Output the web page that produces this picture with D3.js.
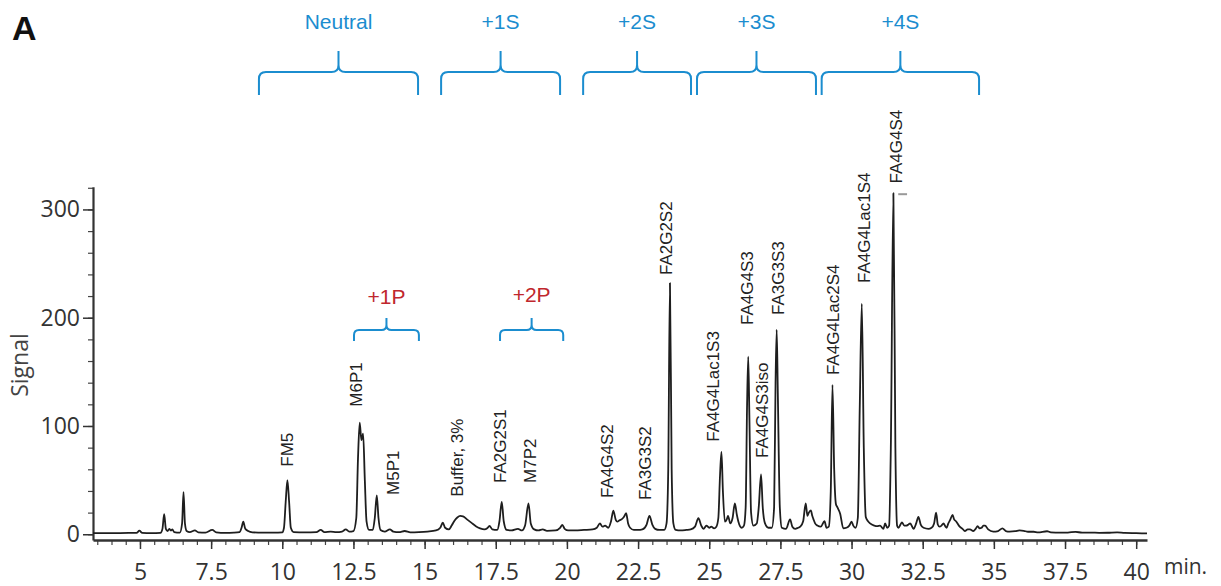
<!DOCTYPE html>
<html><head><meta charset="utf-8">
<script src="https://cdn.jsdelivr.net/npm/d3@7"></script>
<style>body{margin:0;background:#fff}</style>
</head><body><svg id="chart" width="1221" height="586"></svg>
<script>
// ---- data ----
const retentionTime = [3.35,4.0,4.6,4.88,4.98,5.08,5.4,5.72,
5.79,5.85,5.91,5.97,6.03,6.09,6.14,6.2,6.4,
6.48,6.53,6.58,6.64,6.75,6.93,7.05,7.3,7.54,7.68,8.0,8.3,8.5,8.57,8.63,8.7,8.8,8.95,9.3,9.7,10.0,
10.06,10.12,10.18,10.24,10.3,10.4,
10.8,11.2,11.35,11.48,11.7,11.9,12.1,12.23,12.35,12.5,
12.6,12.66,12.72,12.78,12.84,12.9,12.96,13.05,
13.18,13.25,13.32,13.38,13.45,13.6,13.78,13.9,14.1,14.3,14.5,14.8,15.1,15.4,15.55,15.64,15.72,15.85,
15.95,16.05,16.15,16.25,16.35,16.5,16.65,16.8,16.95,17.1,17.2,17.28,17.38,17.55,
17.63,17.71,17.78,17.88,18.05,18.28,18.42,18.53,18.65,18.73,18.85,19.0,19.15,19.3,19.6,19.76,19.84,19.92,20.05,20.3,20.6,20.9,21.05,21.16,21.25,21.34,21.45,21.55,21.63,21.72,21.77,21.85,21.93,22.0,22.08,22.15,22.22,22.35,22.5,22.65,22.8,22.9,23.0,23.1,23.25,23.42,23.5,23.56,23.62,23.68,23.74,23.82,24.0,24.2,24.35,24.5,24.62,24.72,24.8,24.9,25.0,25.07,25.17,25.25,25.32,25.38,25.43,25.48,25.55,25.62,25.66,25.74,25.82,25.9,25.97,26.02,26.14,26.22,26.28,26.33,26.37,26.41,26.47,26.55,26.67,26.74,26.82,26.88,26.96,27.08,27.2,27.28,27.33,27.37,27.41,27.48,27.55,27.7,27.84,27.92,28.02,28.12,28.2,28.3,28.39,28.45,28.5,28.57,28.62,28.66,28.72,28.8,28.92,29.05,29.12,29.2,29.27,29.33,29.39,29.45,29.5,29.6,29.71,29.82,29.92,30.0,30.06,30.14,30.22,30.29,30.36,30.43,30.5,30.58,30.65,30.8,30.9,31.0,31.12,31.18,31.25,31.32,31.38,31.47,31.54,31.6,31.65,31.72,31.77,31.85,31.92,32.0,32.06,32.18,32.27,32.35,32.43,32.53,32.7,32.81,32.9,32.97,33.03,33.09,33.16,33.23,33.3,33.34,33.4,33.46,33.55,33.6,33.67,33.8,33.9,33.98,34.08,34.16,34.28,34.36,34.43,34.5,34.57,34.63,34.69,34.8,34.98,35.15,35.3,35.42,35.55,35.75,35.9,36.05,36.2,36.4,36.55,36.87,37.0,37.34,37.6,37.87,38.1,38.4,38.7,39.0,39.33,39.6,40.0,40.38];
const signal = [1.0,1.0,1.2,1.2,3.3,1.2,1.0,1.2,
5,18.5,5,3,5,3.5,4.5,2,1.5,
10,39,10,3,2,3.5,1.8,1.5,4,1.8,1.3,1.5,2,6,11.6,5,3,1.8,1.5,1.5,1.8,
6,30,50,30,6,2,
1.8,2,4,2,2.5,2,2.5,4.5,2.5,3,
15,70,103,87,93,50,12,4,
4,15,36,15,4,2.5,4.5,2.5,2,3,1.8,2,2.5,3.5,6,10.7,6,4.5,
8,12.5,15.5,17,16.5,13.5,10.5,7.5,5.5,4.5,5.5,7.7,4.5,4,
12,30,12,4,3.5,5,3.5,8,28.6,10,4.5,3.5,4.5,3.2,3.5,6,8.6,5,3.5,3.5,4,4.5,6,10,7,8,6,12,21.8,13,11.6,13,14,16,19.4,10,6,4,4,4.5,9,17,9,5,4,4,10,60,232,60,10,4,3.5,4,4.5,7,14.8,8,5,8,6,7,5.5,7,15,55,76,40,11.6,14,17,10,15,28.6,18,12,6,8,25,120,164,110,20,8,10,25,55.4,25,10,6,6,25,140,189,130,25,6,5,13.8,7,5,6,7,12,28.6,17,20,22,17,14,10,8,7,12,6,7,40,138,60,28,25,19,5.5,6,8,11.6,8,6,15,120,213,80,16,12,10,8,7.5,8,5,10,6,8,80,315,80,8,6,9,11,8,8,9,10,5,10,16,9,6,5,6,10,20,9,7,8,10,7,6,10,13,17.8,14,12,7,5,3,4.5,4.5,3,5,7.5,5.5,6,8,8,4.5,2.5,3,5.5,3,2.5,2.8,3.5,3.2,2.3,2.3,1.8,2.8,1.8,1.5,1.6,2.2,1.5,1.6,1.3,1.4,1.8,1.2,1.0,0.8];

const xMajorTicks = [5,7.5,10,12.5,15,17.5,20,22.5,25,27.5,30,32.5,35,37.5,40];
const yMajorTicks = [0,100,200,300];

const peakNames = ["FM5","M6P1","M5P1","Buffer, 3%","FA2G2S1","M7P2","FA4G4S2","FA3G3S2","FA2G2S2",
  "FA4G4Lac1S3","FA4G4S3","FA4G4S3iso","FA3G3S3","FA4G4Lac2S4","FA4G4Lac1S4","FA4G4S4"];
const peakLabelTime = [10.17,12.59,13.89,16.13,17.65,18.7,21.4,22.74,23.5,25.13,26.32,26.84,27.42,29.35,30.44,31.56];
const peakLabelSignal = [62.4,117.8,36.3,34.7,47.4,47.4,33.5,31.7,239.4,85.5,193.3,70.5,202.5,147,232,324];

const chargeGroups = ["Neutral","+1S","+2S","+3S","+4S"];
const chargeGroupStart = [9.18,15.58,20.57,24.57,28.95];
const chargeGroupEnd = [14.77,19.76,24.36,28.75,34.48];

const phosphoGroups = ["+1P","+2P"];
const phosphoGroupStart = [12.52,17.65];
const phosphoGroupEnd = [14.8,19.87];

const cutMarkTime = [31.64,31.95];
const cutMarkSignal = 315;

// ---- drawing ----
const svg = d3.select("#chart");
const x = d3.scaleLinear().domain([3.35, 40.38]).range([93, 1147]);
const y = d3.scaleLinear().domain([-5.3, 321]).range([540, 186.7]);

const axisFont = "'Open Sans', 'Noto Sans', sans-serif";
const labelFont = "'Liberation Sans', Arial, sans-serif";
const blue = "#1b8dcf", red = "#c0272d";

// x axis minor
const xMinor = d3.range(7, 81).map(d => d / 2);
svg.append("g").attr("transform","translate(0,540)")
  .call(d3.axisBottom(x).tickValues(xMinor).tickSize(5).tickSizeOuter(0).tickFormat(""))
  .call(g => g.select(".domain").remove())
  .call(g => g.selectAll("line").attr("stroke","#444").attr("stroke-width",1.2));
// x axis major
svg.append("g").attr("transform","translate(0,540)")
  .call(d3.axisBottom(x).tickValues(xMajorTicks).tickSize(9).tickSizeOuter(0).tickPadding(15).tickFormat(d => String(d)))
  .call(g => g.select(".domain").attr("stroke","#333").attr("stroke-width",2.6))
  .call(g => g.selectAll("line").attr("stroke","#333").attr("stroke-width",1.5))
  .call(g => g.selectAll("text").attr("font-family",axisFont).attr("font-size",23).attr("fill","#333"));

// y axis minor
const yMinor = d3.range(0, 17).map(d => d * 20);
svg.append("g").attr("transform","translate(93,0)")
  .call(d3.axisLeft(y).tickValues(yMinor).tickSize(5).tickSizeOuter(0).tickFormat(""))
  .call(g => g.select(".domain").remove())
  .call(g => g.selectAll("line").attr("stroke","#444").attr("stroke-width",1.2));
svg.append("g").attr("transform","translate(93,0)")
  .call(d3.axisLeft(y).tickValues(yMajorTicks).tickSize(10).tickSizeOuter(0).tickPadding(3).tickFormat(d => String(d)))
  .call(g => g.select(".domain").attr("stroke","#333").attr("stroke-width",2.2))
  .call(g => g.selectAll("line").attr("stroke","#333").attr("stroke-width",1.5))
  .call(g => g.selectAll("text").attr("font-family",axisFont).attr("font-size",23).attr("fill","#333"));

svg.append("text").attr("transform","translate(28,365) rotate(-90)")
  .attr("text-anchor","middle").attr("font-family",axisFont).attr("font-size",23).attr("fill","#444").text("Signal");
svg.append("text").attr("x",1164).attr("y",574)
  .attr("font-family",axisFont).attr("font-size",21).attr("fill","#333").text("min.");

// trace
const pts = retentionTime.map((t,i) => [t, signal[i]]);
svg.append("path").datum(pts)
  .attr("fill","none").attr("stroke","#1e1e1e").attr("stroke-width",1.8).attr("stroke-linejoin","round")
  .attr("d", d3.line().x(d => x(d[0])).y(d => y(d[1])).curve(d3.curveMonotoneX));

// cut mark
svg.append("line").attr("x1",x(cutMarkTime[0])).attr("x2",x(cutMarkTime[1]))
  .attr("y1",y(cutMarkSignal)+1).attr("y2",y(cutMarkSignal)+1).attr("stroke","#999").attr("stroke-width",2);

// peak labels
peakNames.forEach((n,i) => {
  svg.append("text")
    .attr("transform",`translate(${x(peakLabelTime[i])},${y(peakLabelSignal[i])}) rotate(-90)`)
    .attr("dy","0.35em").attr("font-family",labelFont).attr("font-size",17).attr("fill","#222").text(n);
});

// brackets
function bracket(x0, x1, yH, yEnd, yCusp, r) {
  const xc = (x0 + x1) / 2;
  return `M${x0},${yEnd} L${x0},${yH+r} Q${x0},${yH} ${x0+r},${yH} L${xc-r},${yH} Q${xc},${yH} ${xc},${yH-r} L${xc},${yCusp}` +
         ` M${xc},${yH-r} Q${xc},${yH} ${xc+r},${yH} L${x1-r},${yH} Q${x1},${yH} ${x1},${yH+r} L${x1},${yEnd}`;
}
chargeGroups.forEach((n,i) => {
  const x0 = x(chargeGroupStart[i]), x1 = x(chargeGroupEnd[i]);
  svg.append("path").attr("d", bracket(x0, x1, 72, 95, 51, 7))
    .attr("fill","none").attr("stroke",blue).attr("stroke-width",2);
  svg.append("text").attr("x",(x0+x1)/2).attr("y",29).attr("text-anchor","middle")
    .attr("font-family",labelFont).attr("font-size",21).attr("fill",blue).text(n);
});
phosphoGroups.forEach((n,i) => {
  const x0 = x(phosphoGroupStart[i]), x1 = x(phosphoGroupEnd[i]);
  svg.append("path").attr("d", bracket(x0, x1, 330, 341, 318, 5))
    .attr("fill","none").attr("stroke",blue).attr("stroke-width",2);
  svg.append("text").attr("x",(x0+x1)/2).attr("y",304 - i*2).attr("text-anchor","middle")
    .attr("font-family",labelFont).attr("font-size",21).attr("fill",red).text(n);
});

svg.append("text").attr("x",12).attr("y",40).attr("font-family",labelFont).attr("font-weight","bold")
  .attr("font-size",34).attr("fill","#111").text("A");
</script></body></html>
